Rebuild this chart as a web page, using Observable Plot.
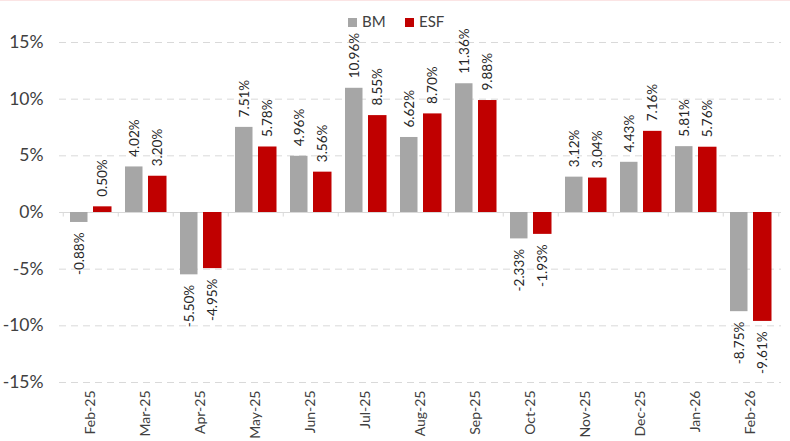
<!DOCTYPE html>
<html>
<head>
<meta charset="utf-8">
<script src="https://cdn.jsdelivr.net/npm/d3@7"></script>
<script src="https://cdn.jsdelivr.net/npm/@observablehq/plot@0.6"></script>
<style>
  body { margin: 0; background: #fff; }
  #wrap { position: relative; width: 790px; height: 441px; overflow: hidden; }
  #topline { position: absolute; left: 0; top: 0; width: 790px; height: 1px; background: #fbe4e4; }
  #legend { position: absolute; top: 12px; left: 0; font: 15px Lato, sans-serif; color: #404040; }
  .item { position: absolute; white-space: nowrap; }
  .sw { display: inline-block; width: 9px; height: 9px; margin-right: 5px; vertical-align: 0px; }
  #chart svg { display: block; }
</style>
</head>
<body>
<div id="wrap">
  <div id="topline"></div>
  <div id="chart"></div>
  <div id="legend"></div>
</div>
<script>
const months = ["Feb-25","Mar-25","Apr-25","May-25","Jun-25","Jul-25","Aug-25","Sep-25","Oct-25","Nov-25","Dec-25","Jan-26","Feb-26"];
const bm  = [-0.88, 4.02, -5.50, 7.51, 4.96, 10.96, 6.62, 11.36, -2.33, 3.12, 4.43, 5.81, -8.75];
const esf = [ 0.50, 3.20, -4.95, 5.78, 3.56,  8.55, 8.70,  9.88, -1.93, 3.04, 7.16, 5.76, -9.61];
const seriesNames = ["BM", "ESF"];
const seriesColors = ["#a6a6a6", "#c00000"];
const yTicks = [-15, -10, -5, 0, 5, 10, 15];

const rows = months.flatMap((m, i) => [
  {month: m, series: "BM", value: bm[i]},
  {month: m, series: "ESF", value: esf[i]}
]);
const bmRows = rows.filter(d => d.series === "BM");
const esfRows = rows.filter(d => d.series === "ESF");

const fmt = d => d.value.toFixed(2) + "%";
const labelStyle = {fill: "#262626", fontSize: 13.5, rotate: -90};
function labels(data, dx) {
  return [
    Plot.text(data.filter(d => d.value >= 0), {x: "month", y: "value", text: fmt, textAnchor: "start", dx, dy: -10, ...labelStyle}),
    Plot.text(data.filter(d => d.value < 0), {x: "month", y: "value", text: fmt, textAnchor: "end", dx, dy: 10, ...labelStyle})
  ];
}

const chart = Plot.plot({
  width: 790,
  height: 441,
  marginLeft: 59,
  marginRight: 9,
  marginTop: 42,
  marginBottom: 59,
  style: {fontFamily: "Lato, sans-serif", background: "transparent", color: "#404040"},
  x: {domain: months, padding: 0, axis: null, label: null},
  y: {domain: [-15, 15], axis: null, label: null},
  marks: [
    Plot.gridY(yTicks.filter(t => t !== 0), {stroke: "#d9d9d9", strokeOpacity: 1, strokeDasharray: "7,5"}),
    Plot.ruleY([0], {stroke: "#d9d9d9"}),
    Plot.ruleX(months, {x: d => d, y1: 0, y2: -0.4, dx: -27.75, stroke: "#d9d9d9"}),
    Plot.ruleX(months.slice(-1), {x: d => d, y1: 0, y2: -0.4, dx: 27.75, stroke: "#d9d9d9"}),
    Plot.barY(bmRows, {x: "month", y: "value", fill: seriesColors[0], insetLeft: 7, insetRight: 30.5}),
    Plot.barY(esfRows, {x: "month", y: "value", fill: seriesColors[1], insetLeft: 30, insetRight: 6.5}),
    ...labels(bmRows, -11.75),
    ...labels(esfRows, 11.75),
    Plot.axisY(yTicks, {tickSize: 0, tickPadding: 16, fontSize: 17.5, label: null, tickFormat: d => d + "%", fill: "#404040"}),
    Plot.axisX({tickSize: 0, tickPadding: 8, tickRotate: -90, fontSize: 14, label: null, fill: "#404040"})
  ]
});
document.getElementById("chart").appendChild(chart);

const legend = document.getElementById("legend");
const lx = [348, 405];
seriesNames.forEach((name, i) => {
  const it = document.createElement("div");
  it.className = "item";
  it.style.left = lx[i] + "px";
  const sw = document.createElement("span");
  sw.className = "sw";
  sw.style.background = seriesColors[i];
  it.appendChild(sw);
  it.appendChild(document.createTextNode(name));
  legend.appendChild(it);
});
</script>
</body>
</html>
